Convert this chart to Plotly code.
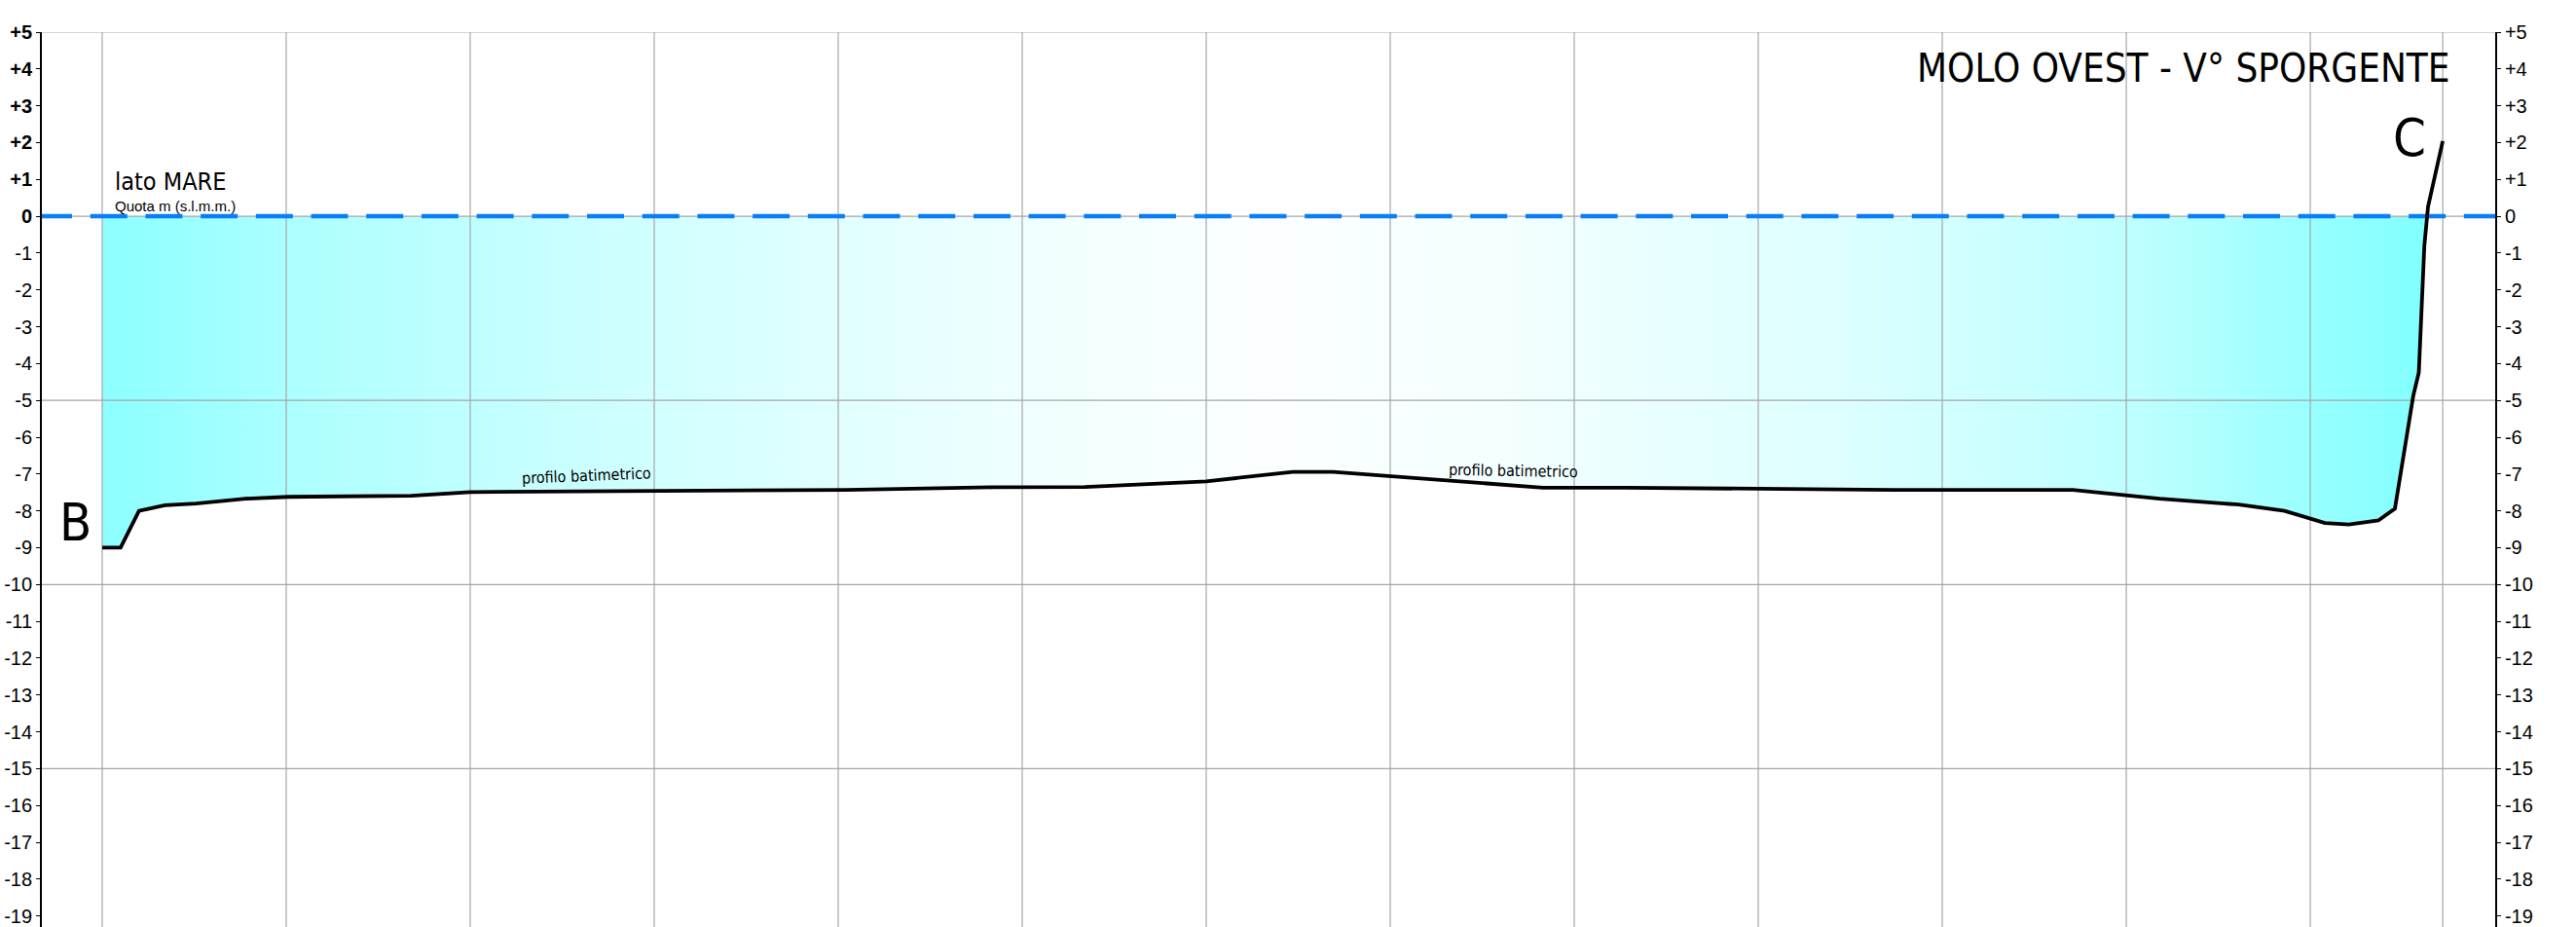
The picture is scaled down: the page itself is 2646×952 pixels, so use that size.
import plotly.graph_objects as go

# ---- data ----
distance = [0, 1.0, 2.0, 3.4, 5.1, 7.8, 10.1, 16.8, 20.0, 30.0, 35.5, 40.4, 48.4, 53.4,
            60.0, 64.7, 66.9, 78.3, 82.8, 90.0, 97.3, 107.1, 111.8, 116.1, 118.6, 120.8,
            122.1, 123.7, 124.6, 124.8, 125.6, 125.9, 126.1, 126.2, 126.4, 127.2]
depth = [-9.0, -9.0, -8.0, -7.85, -7.8, -7.67, -7.62, -7.59, -7.49, -7.47, -7.46, -7.43,
         -7.36, -7.35, -7.2, -6.94, -6.94, -7.37, -7.37, -7.41, -7.43, -7.43, -7.67, -7.83,
         -8.0, -8.33, -8.37, -8.26, -7.94, -7.33, -4.87, -4.24, -2.04, -0.8, 0.26, 2.04]
sea_level = 0
y_ticks = list(range(5, -20, -1))
y_ticktext_right = [("+%d" % v) if v > 0 else str(v) for v in y_ticks]
y_ticktext_left = [("<b>%s</b>" % t) if v >= 0 else t for v, t in zip(y_ticks, y_ticktext_right)]
grid_x = list(range(0, 130, 10))[:13] + [distance[-1]]
grid_y = [5, 0, -5, -10, -15]

X_RANGE = [-3.28, 130.05]
Y_RANGE = [-19.3, 5]

# ---- water polygon (profile below sea level, closed along sea level) ----
k = next(i for i, d in enumerate(depth) if d > sea_level)
x0, y0, x1, y1 = distance[k - 1], depth[k - 1], distance[k], depth[k]
x_cross = x0 + (sea_level - y0) * (x1 - x0) / (y1 - y0)
water_x = distance[:k] + [x_cross, distance[0]]
water_y = depth[:k] + [sea_level, sea_level]

fig = go.Figure()

fig.add_trace(go.Scatter(
    x=water_x, y=water_y, mode="lines", fill="toself", line=dict(width=0),
    fillgradient=dict(type="horizontal", colorscale=[
        [0.0, "rgb(140,255,255)"], [0.1, "rgb(178,255,255)"], [0.25, "rgb(212,255,255)"],
        [0.4, "rgb(240,255,255)"], [0.5, "rgb(252,255,255)"], [0.6, "rgb(244,255,255)"],
        [0.75, "rgb(220,255,255)"], [0.88, "rgb(188,255,255)"], [1.0, "rgb(128,255,255)"]]),
    hoverinfo="skip", showlegend=False))

# grid lines drawn over the water fill
gx, gy = [], []
for v in grid_x:
    gx += [v, v, None]
    gy += [Y_RANGE[0], Y_RANGE[1], None]
for v in grid_y:
    gx += [X_RANGE[0], X_RANGE[1], None]
    gy += [v, v, None]
fig.add_trace(go.Scatter(x=gx, y=gy, mode="lines", line=dict(color="#a6a6a6", width=1.2),
                         hoverinfo="skip", showlegend=False))

# sea level dashed line
fig.add_trace(go.Scatter(x=[-3.65, X_RANGE[1]], y=[sea_level, sea_level], mode="lines",
                         line=dict(color="#0a7ff5", width=4.5, dash="38px,18.7px"),
                         hoverinfo="skip", showlegend=False))

# bathymetric profile
fig.add_trace(go.Scatter(x=distance, y=depth, mode="lines",
                         line=dict(color="black", width=3.8),
                         hoverinfo="skip", showlegend=False))

# dummy trace for right axis
fig.add_trace(go.Scatter(x=[None], y=[None], yaxis="y2", showlegend=False, hoverinfo="skip"))

NARROW = "Liberation Sans Narrow, Arial Narrow, DejaVu Sans Condensed, sans-serif"
SANS = "Liberation Sans, Arial, sans-serif"

ann = [
    dict(x=127.7, y=4.02, text="MOLO OVEST - V° SPORGENTE", xanchor="right", yanchor="middle",
         font=dict(family=NARROW, size=40, color="black")),
    dict(x=0.58, y=0.95, text="lato MARE", xanchor="left", yanchor="middle",
         font=dict(family=NARROW, size=25, color="black")),
    dict(x=0.58, y=0.29, text="Quota m (s.l.m.m.)", xanchor="left", yanchor="middle",
         font=dict(family=SANS, size=15, color="black")),
    dict(x=-1.48, y=-8.31, text="B", xanchor="center", yanchor="middle",
         font=dict(family=NARROW, size=54, color="black")),
    dict(x=125.4, y=2.14, text="C", xanchor="center", yanchor="middle",
         font=dict(family=NARROW, size=54, color="black")),
    dict(x=26.3, y=-7.04, text="profilo batimetrico", xanchor="center", yanchor="middle",
         textangle=-2.3, font=dict(family=NARROW, size=16, color="black")),
    dict(x=76.7, y=-6.9, text="profilo batimetrico", xanchor="center", yanchor="middle",
         textangle=1, font=dict(family=NARROW, size=16, color="black")),
]
for a in ann:
    a.update(xref="x", yref="y", showarrow=False)

yax = dict(range=Y_RANGE, tickvals=y_ticks, ticks="outside", ticklen=4,
           tickcolor="black", tickwidth=1.2, showline=True, linecolor="black", linewidth=1.8,
           showgrid=False, zeroline=False, tickfont=dict(family=SANS, size=20, color="black"),
           fixedrange=True)

fig.update_layout(
    width=2646, height=952,
    margin=dict(l=43, r=83, t=33, b=0),
    paper_bgcolor="white", plot_bgcolor="white",
    xaxis=dict(range=X_RANGE, showgrid=False, zeroline=False, showticklabels=False,
               showline=False, ticks=""),
    yaxis=dict(yax, ticktext=y_ticktext_left),
    yaxis2=dict(yax, ticktext=y_ticktext_right, overlaying="y", side="right"),
    annotations=ann,
    showlegend=False,
)

fig.write_html("out.html", config={"displayModeBar": False},
               post_script="document.body.style.margin='0px';")
